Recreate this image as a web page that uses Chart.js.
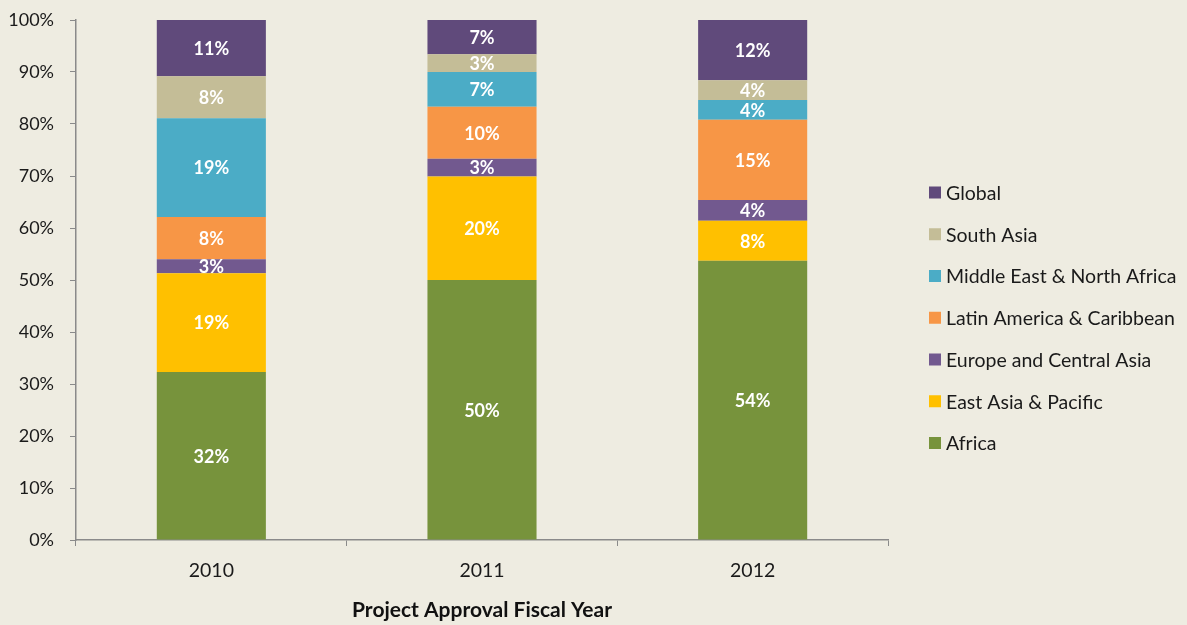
<!DOCTYPE html>
<html>
<head>
<meta charset="utf-8">
<script src="https://cdn.jsdelivr.net/npm/chart.js@4"></script>
<style>
  html, body { margin: 0; padding: 0; background: #EEECE1; }
  #wrap { width: 1187px; height: 625px; position: relative; }
</style>
</head>
<body>
<div id="wrap"><canvas id="myChart"></canvas></div>
<script>
// categories + series (share of projects, %)
const years = ["2010", "2011", "2012"]
const africa = [32.3, 50.0, 53.7]
const eastAsia = [19.0, 19.9, 7.7]
const europeCA = [2.7, 3.4, 4.0]
const latinAm = [8.1, 10.0, 15.4]
const mena = [19.0, 6.7, 3.8]
const southAsia = [8.1, 3.4, 3.8]
const global = [10.9, 6.6, 11.6]
const yTicks = [0, 10, 20, 30, 40, 50, 60, 70, 80, 90, 100]

const FONT = "Lato, 'Open Sans', sans-serif"
const ctx = document.getElementById('myChart')

// white % labels in the middle of every segment
const segLabels = {
  id: 'segLabels',
  afterDatasetsDraw(chart) {
    const c = chart.ctx
    c.save()
    c.fillStyle = '#ffffff'
    c.font = `bold 18px ${FONT}`
    c.textAlign = 'center'
    c.textBaseline = 'middle'
    chart.data.datasets.forEach((ds, i) => {
      chart.getDatasetMeta(i).data.forEach((bar, j) => {
        const mid = (bar.y + bar.base) / 2
        c.fillText(Math.round(ds.data[j]) + '%', bar.x, mid + 1)
      })
    })
    c.restore()
  }
}

// legend on the right, top item = last dataset
const sideLegend = {
  id: 'sideLegend',
  afterDraw(chart) {
    const c = chart.ctx
    const list = chart.data.datasets.slice().reverse()
    c.save()
    c.font = `19.5px ${FONT}`
    c.textBaseline = 'middle'
    c.textAlign = 'left'
    list.forEach((ds, i) => {
      const y = 192.5 + i * 41.75
      c.fillStyle = ds.backgroundColor
      c.fillRect(929, y - 6, 12, 12)
      c.fillStyle = '#1a1a1a'
      c.fillText(ds.label, 946, y + 1)
    })
    c.restore()
  }
}

const myChart = new Chart(ctx, {
  type: 'bar',
  data: {
    labels: years,
    datasets: [
      { label: 'Africa', data: africa, backgroundColor: '#77933C' },
      { label: 'East Asia & Pacific', data: eastAsia, backgroundColor: '#FFC000' },
      { label: 'Europe and Central Asia', data: europeCA, backgroundColor: '#72598F' },
      { label: 'Latin America & Caribbean', data: latinAm, backgroundColor: '#F79646' },
      { label: 'Middle East & North Africa', data: mena, backgroundColor: '#4BACC6' },
      { label: 'South Asia', data: southAsia, backgroundColor: '#C4BD97' },
      { label: 'Global', data: global, backgroundColor: '#604A7B' },
    ]
  },
  options: {
    responsive: true,
    maintainAspectRatio: false,
    animation: false,
    datasets: { bar: { categoryPercentage: 1, barPercentage: 0.403, borderWidth: 0 } },
    layout: { padding: { left: 0, right: 299, top: 20, bottom: 0 } },
    plugins: {
      legend: { display: false },
      tooltip: { enabled: false }
    },
    scales: {
      x: {
        stacked: true,
        afterFit: (axis) => { axis.height = 85 },
        grid: { drawOnChartArea: false, drawTicks: true, tickLength: 6, color: '#8a8a8a', offset: true },
        border: { color: '#8a8a8a', width: 1.5 },
        ticks: { color: '#1a1a1a', font: { family: FONT, size: 19.5 }, padding: 13 },
        title: {
          display: true,
          text: 'Project Approval Fiscal Year',
          color: '#111',
          font: { family: FONT, size: 21, weight: 'bold' },
          padding: { top: 15, bottom: 2 }
        }
      },
      y: {
        stacked: true,
        min: 0,
        max: 100,
        afterBuildTicks: (axis) => { axis.ticks = yTicks.map(v => ({ value: v })) },
        afterFit: (axis) => { axis.width = 76; axis.paddingTop = 0; axis.paddingBottom = 0 },
        grid: { drawOnChartArea: false, drawTicks: true, tickLength: 6, color: '#8a8a8a' },
        border: { color: '#8a8a8a', width: 1.5 },
        ticks: {
          color: '#1a1a1a',
          font: { family: FONT, size: 18 },
          padding: 16,
          callback: (v) => v + '%'
        }
      }
    }
  },
  plugins: [segLabels, sideLegend]
})
</script>
</body>
</html>
